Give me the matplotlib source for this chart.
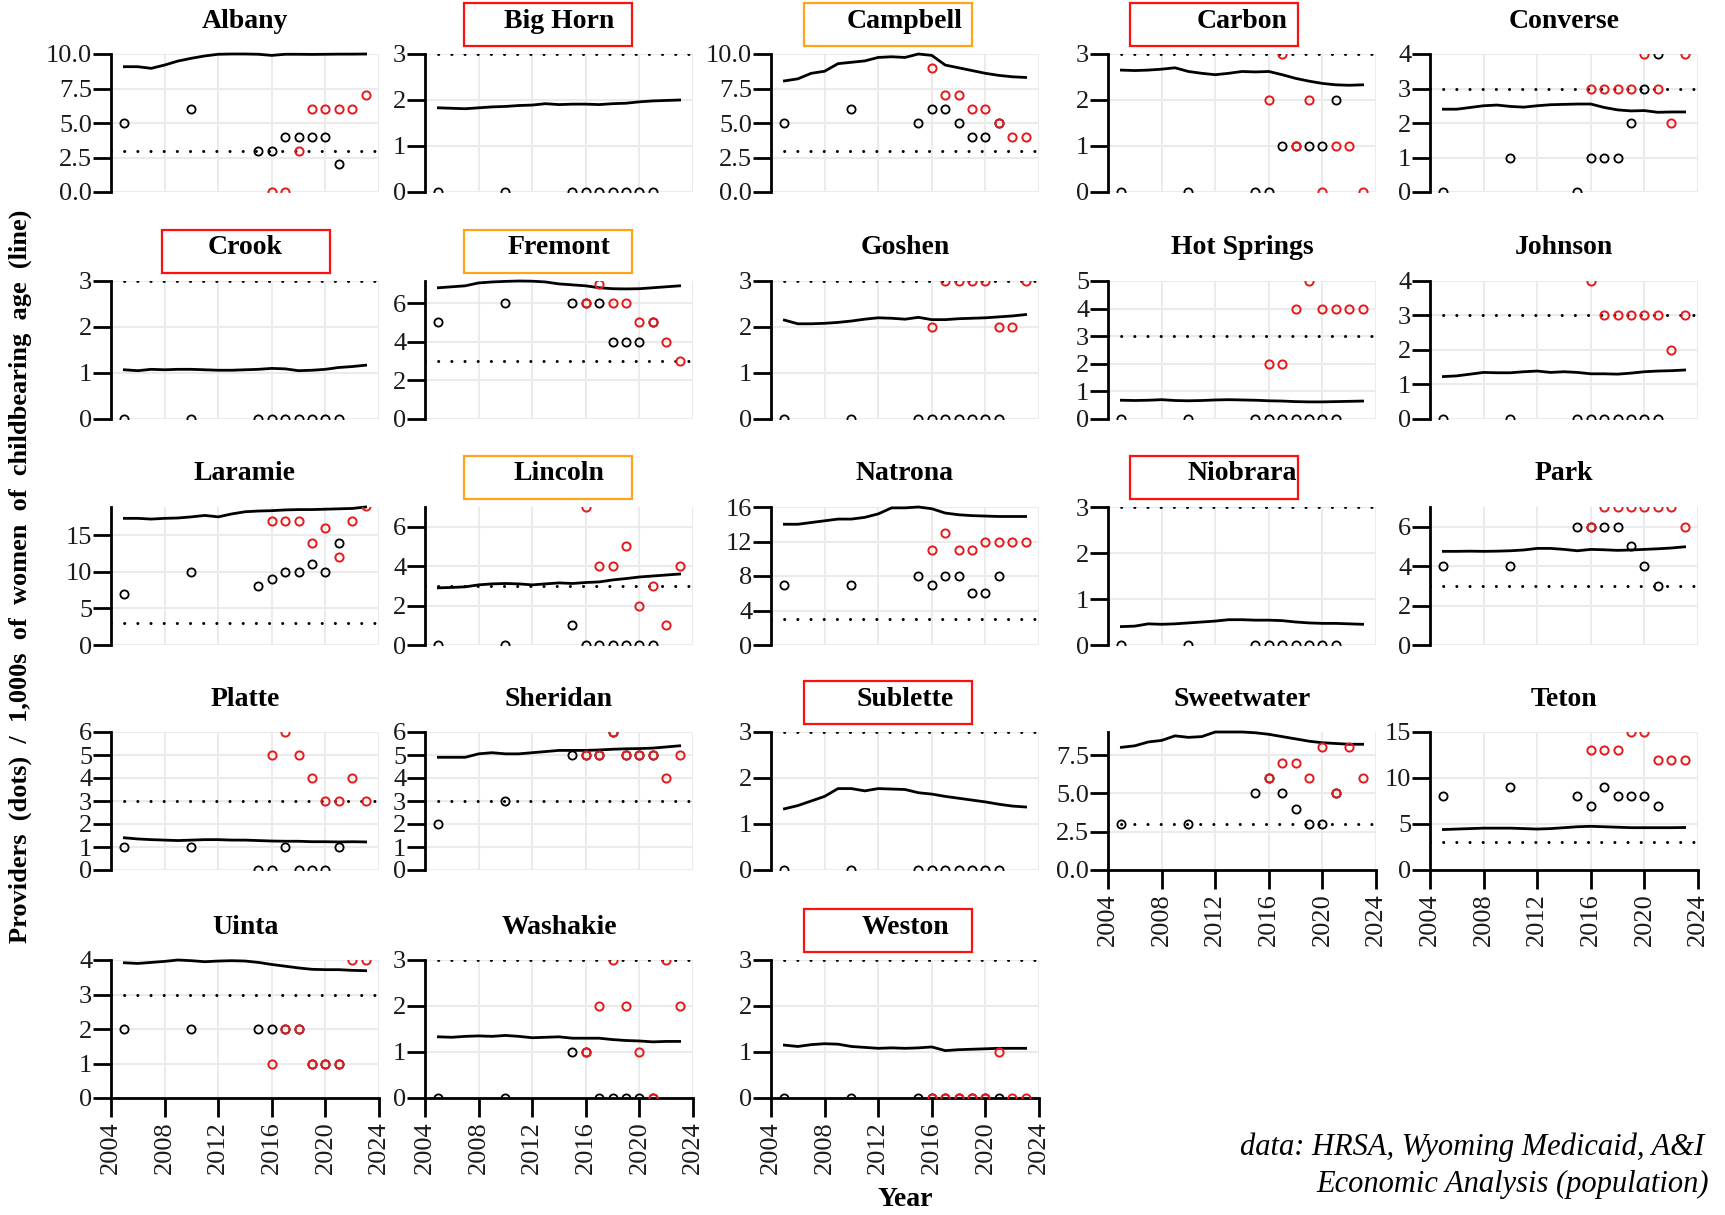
import matplotlib.pyplot as plt
from matplotlib.patches import Rectangle
import numpy as np

plt.rcParams['font.family'] = ['Liberation Serif', 'DejaVu Serif']

counties = ['Albany', 'Big Horn', 'Campbell', 'Carbon', 'Converse',
            'Crook', 'Fremont', 'Goshen', 'Hot Springs', 'Johnson',
            'Laramie', 'Lincoln', 'Natrona', 'Niobrara', 'Park',
            'Platte', 'Sheridan', 'Sublette', 'Sweetwater', 'Teton',
            'Uinta', 'Washakie', 'Weston']

line_years = list(range(2005, 2024))
black_years = [2005, 2010, 2015, 2016, 2017, 2018, 2019, 2020, 2021]
red_years = list(range(2016, 2024))

# women of childbearing age, 1,000s (line)
women_k = {
    'Albany': [9.08, 9.08, 8.96, 9.2, 9.49, 9.69, 9.86, 9.98, 10.0, 10.0, 9.98, 9.9, 9.98, 9.98, 9.97, 9.98, 9.99, 9.99, 10.0],
    'Big Horn': [1.83, 1.82, 1.81, 1.83, 1.85, 1.86, 1.88, 1.89, 1.92, 1.9, 1.91, 1.91, 1.9, 1.92, 1.93, 1.96, 1.98, 1.99, 2.0],
    'Campbell': [8.05, 8.2, 8.6, 8.75, 9.3, 9.4, 9.5, 9.75, 9.8, 9.75, 10.0, 9.9, 9.2, 9.0, 8.8, 8.6, 8.45, 8.35, 8.3],
    'Carbon': [2.65, 2.64, 2.65, 2.67, 2.7, 2.62, 2.58, 2.55, 2.58, 2.62, 2.61, 2.62, 2.55, 2.47, 2.41, 2.36, 2.33, 2.32, 2.33],
    'Converse': [2.4, 2.4, 2.45, 2.5, 2.52, 2.48, 2.46, 2.5, 2.53, 2.54, 2.55, 2.55, 2.45, 2.38, 2.35, 2.36, 2.31, 2.32, 2.32],
    'Crook': [1.07, 1.05, 1.08, 1.07, 1.08, 1.08, 1.07, 1.06, 1.06, 1.07, 1.08, 1.1, 1.09, 1.05, 1.06, 1.08, 1.12, 1.14, 1.17],
    'Fremont': [6.8, 6.85, 6.9, 7.05, 7.1, 7.13, 7.15, 7.14, 7.1, 7.0, 6.95, 6.9, 6.8, 6.75, 6.74, 6.75, 6.8, 6.85, 6.9],
    'Goshen': [2.15, 2.07, 2.07, 2.08, 2.1, 2.13, 2.17, 2.2, 2.19, 2.17, 2.21, 2.16, 2.16, 2.18, 2.19, 2.2, 2.22, 2.24, 2.27],
    'Hot Springs': [0.68, 0.67, 0.68, 0.7, 0.67, 0.66, 0.67, 0.69, 0.7, 0.69, 0.68, 0.66, 0.65, 0.63, 0.62, 0.62, 0.63, 0.64, 0.65],
    'Johnson': [1.23, 1.25, 1.3, 1.35, 1.34, 1.34, 1.37, 1.39, 1.35, 1.37, 1.35, 1.31, 1.31, 1.3, 1.33, 1.37, 1.39, 1.4, 1.42],
    'Laramie': [17.3, 17.3, 17.2, 17.3, 17.35, 17.5, 17.7, 17.5, 17.9, 18.2, 18.3, 18.35, 18.45, 18.5, 18.5, 18.55, 18.6, 18.65, 18.85],
    'Lincoln': [2.9, 2.92, 2.95, 3.05, 3.1, 3.12, 3.1, 3.05, 3.1, 3.15, 3.12, 3.17, 3.2, 3.3, 3.37, 3.45, 3.5, 3.55, 3.6],
    'Natrona': [14.0, 14.0, 14.2, 14.4, 14.6, 14.6, 14.8, 15.2, 15.9, 15.9, 16.0, 15.8, 15.3, 15.1, 15.0, 14.95, 14.9, 14.9, 14.9],
    'Niobrara': [0.4, 0.41, 0.46, 0.45, 0.46, 0.48, 0.5, 0.52, 0.55, 0.55, 0.54, 0.54, 0.53, 0.5, 0.48, 0.47, 0.47, 0.46, 0.45],
    'Park': [4.75, 4.75, 4.76, 4.75, 4.76, 4.78, 4.82, 4.9, 4.9, 4.85, 4.78, 4.85, 4.83, 4.8, 4.82, 4.85, 4.88, 4.92, 4.98],
    'Platte': [1.4, 1.35, 1.32, 1.3, 1.28, 1.3, 1.32, 1.32, 1.3, 1.3, 1.28, 1.26, 1.25, 1.25, 1.23, 1.23, 1.22, 1.23, 1.22],
    'Sheridan': [4.9, 4.9, 4.9, 5.05, 5.1, 5.05, 5.05, 5.1, 5.15, 5.2, 5.2, 5.2, 5.22, 5.25, 5.27, 5.28, 5.3, 5.35, 5.4],
    'Sublette': [1.33, 1.4, 1.5, 1.6, 1.77, 1.77, 1.72, 1.77, 1.76, 1.75, 1.68, 1.65, 1.6, 1.56, 1.52, 1.48, 1.43, 1.39, 1.37],
    'Sweetwater': [8.0, 8.1, 8.35, 8.45, 8.75, 8.65, 8.7, 9.0, 9.0, 9.0, 8.95, 8.85, 8.7, 8.55, 8.4, 8.3, 8.25, 8.2, 8.2],
    'Teton': [4.4, 4.45, 4.5, 4.55, 4.55, 4.55, 4.5, 4.45, 4.5, 4.6, 4.7, 4.75, 4.7, 4.65, 4.6, 4.6, 4.6, 4.6, 4.62],
    'Uinta': [3.92, 3.9, 3.93, 3.96, 4.0, 3.98, 3.95, 3.97, 3.98, 3.97, 3.93, 3.87, 3.82, 3.77, 3.73, 3.72, 3.72, 3.7, 3.69],
    'Washakie': [1.33, 1.32, 1.34, 1.35, 1.34, 1.36, 1.34, 1.31, 1.32, 1.33, 1.3, 1.3, 1.3, 1.27, 1.25, 1.24, 1.22, 1.23, 1.23],
    'Weston': [1.15, 1.12, 1.16, 1.18, 1.17, 1.12, 1.1, 1.08, 1.09, 1.08, 1.09, 1.11, 1.03, 1.05, 1.06, 1.07, 1.08, 1.08, 1.08],
}

# providers, black dots
prov_black = {
    'Albany': [5, 6, 3, 3, 4, 4, 4, 4, 2],
    'Big Horn': [0, 0, 0, 0, 0, 0, 0, 0, 0],
    'Campbell': [5, 6, 5, 6, 6, 5, 4, 4, 5],
    'Carbon': [0, 0, 0, 0, 1, 1, 1, 1, 2],
    'Converse': [0, 1, 0, 1, 1, 1, 2, 3, 4],
    'Crook': [0, 0, 0, 0, 0, 0, 0, 0, 0],
    'Fremont': [5, 6, 6, 6, 6, 4, 4, 4, 5],
    'Goshen': [0, 0, 0, 0, 0, 0, 0, 0, 0],
    'Hot Springs': [0, 0, 0, 0, 0, 0, 0, 0, 0],
    'Johnson': [0, 0, 0, 0, 0, 0, 0, 0, 0],
    'Laramie': [7, 10, 8, 9, 10, 10, 11, 10, 14],
    'Lincoln': [0, 0, 1, 0, 0, 0, 0, 0, 0],
    'Natrona': [7, 7, 8, 7, 8, 8, 6, 6, 8],
    'Niobrara': [0, 0, 0, 0, 0, 0, 0, 0, 0],
    'Park': [4, 4, 6, 6, 6, 6, 5, 4, 3],
    'Platte': [1, 1, 0, 0, 1, 0, 0, 0, 1],
    'Sheridan': [2, 3, 5, 5, 5, 6, 5, 5, 5],
    'Sublette': [0, 0, 0, 0, 0, 0, 0, 0, 0],
    'Sweetwater': [3, 3, 5, 6, 5, 4, 3, 3, 5],
    'Teton': [8, 9, 8, 7, 9, 8, 8, 8, 7],
    'Uinta': [2, 2, 2, 2, 2, 2, 1, 1, 1],
    'Washakie': [0, 0, 1, 1, 0, 0, 0, 0, 0],
    'Weston': [0, 0, 0, 0, 0, 0, 0, 0, 0],
}

# providers, red dots (none shown for some counties)
prov_red = {
    'Albany': [0, 0, 3, 6, 6, 6, 6, 7],
    'Campbell': [9, 7, 7, 6, 6, 5, 4, 4],
    'Carbon': [2, 3, 1, 2, 0, 1, 1, 0],
    'Converse': [3, 3, 3, 3, 4, 3, 2, 4],
    'Fremont': [6, 7, 6, 6, 5, 5, 4, 3],
    'Goshen': [2, 3, 3, 3, 3, 2, 2, 3],
    'Hot Springs': [2, 2, 4, 5, 4, 4, 4, 4],
    'Johnson': [4, 3, 3, 3, 3, 3, 2, 3],
    'Laramie': [17, 17, 17, 14, 16, 12, 17, 19],
    'Lincoln': [7, 4, 4, 5, 2, 3, 1, 4],
    'Natrona': [11, 13, 11, 11, 12, 12, 12, 12],
    'Park': [6, 7, 7, 7, 7, 7, 7, 6],
    'Platte': [5, 6, 5, 4, 3, 3, 4, 3],
    'Sheridan': [5, 5, 6, 5, 5, 5, 4, 5],
    'Sweetwater': [6, 7, 7, 6, 8, 5, 8, 6],
    'Teton': [13, 13, 13, 15, 15, 12, 12, 12],
    'Uinta': [1, 2, 2, 1, 1, 1, 4, 4],
    'Washakie': [1, 2, 3, 2, 1, 0, 3, 2],
    'Weston': [0, 0, 0, 0, 0, 1, 0, 0],
}

y_top = {'Albany': 10, 'Big Horn': 3, 'Campbell': 10, 'Carbon': 3, 'Converse': 4,
         'Crook': 3, 'Fremont': 7.15, 'Goshen': 3, 'Hot Springs': 5, 'Johnson': 4,
         'Laramie': 18.85, 'Lincoln': 7, 'Natrona': 16, 'Niobrara': 3, 'Park': 7,
         'Platte': 6, 'Sheridan': 6, 'Sublette': 3, 'Sweetwater': 9, 'Teton': 15,
         'Uinta': 4, 'Washakie': 3, 'Weston': 3}
y_step = {'Albany': 2.5, 'Campbell': 2.5, 'Sweetwater': 2.5, 'Fremont': 2, 'Lincoln': 2,
          'Park': 2, 'Natrona': 4, 'Laramie': 5, 'Teton': 5}

flagged = {'Big Horn': 'red', 'Carbon': 'red', 'Crook': 'red', 'Niobrara': 'red',
           'Sublette': 'red', 'Weston': 'red',
           'Campbell': 'orange', 'Fremont': 'orange', 'Lincoln': 'orange'}
flag_colours = {'red': '#FF1010', 'orange': '#FFA31A'}

W, H = 1725, 1215
col_x = [111, 425, 771, 1108, 1430]
row_y = [54, 281, 507, 732, 960]
pw, ph = 268, 138
box_dx = [51, 39, 33, 22, 22]
with_xaxis = ['Sweetwater', 'Teton', 'Uinta', 'Washakie', 'Weston']

fig = plt.figure(figsize=(W / 100, H / 100), dpi=100)

for i, name in enumerate(counties):
    r, c = divmod(i, 5)
    ax = fig.add_axes([col_x[c] / W, 1 - (row_y[r] + ph) / H, pw / W, ph / H])
    top = y_top[name]
    step = y_step.get(name, 1)
    ax.set_xlim(2004, 2024)
    ax.set_ylim(0, top)
    ax.set_xticks(range(2004, 2025, 4))
    ticks = np.arange(0, top + 1e-9, step)
    ax.set_yticks(ticks)
    if step == 2.5:
        ax.set_yticklabels(['%.1f' % t for t in ticks])
    else:
        ax.set_yticklabels(['%d' % t for t in ticks])

    ax.grid(True, color='#EBEBEB', lw=1.5)
    ax.set_axisbelow(True)
    for s in ['top', 'right']:
        ax.spines[s].set_visible(False)
    ax.spines['left'].set_linewidth(2.0)
    ax.tick_params(axis='y', length=13, width=2.0, pad=0.5, labelsize=19, labelcolor='#1a1a1a')
    if name in with_xaxis:
        ax.spines['bottom'].set_linewidth(2.0)
        ax.tick_params(axis='x', length=14, width=2.0, pad=3, labelsize=19,
                       labelrotation=90, labelcolor='#1a1a1a')
    else:
        ax.spines['bottom'].set_visible(False)
        ax.tick_params(axis='x', length=0, labelbottom=False)

    ax.axhline(3, color='black', lw=2.2, ls=(0, (0.01, 4.3)), dash_capstyle='round', zorder=2)
    ax.plot(line_years, women_k[name], color='black', lw=2.0, zorder=3, clip_on=False)
    ax.plot(black_years, prov_black[name], ls='none', marker='o', ms=5.9, mfc='none',
            mec='black', mew=1.3, zorder=4)
    if name in prov_red:
        ax.plot(red_years, prov_red[name], ls='none', marker='o', ms=5.9, mfc='none',
                mec='#E41A1C', mew=1.4, zorder=5)

    ax.text(0.5, 1 + 33 / ph, name, transform=ax.transAxes, ha='center', va='center',
            fontsize=20, fontweight='bold')

    if name in flagged:
        bx = col_x[c] + box_dx[c]
        by = row_y[r] - 51
        fig.patches.append(Rectangle((bx / W, 1 - (by + 43) / H), 168 / W, 43 / H,
                                     transform=fig.transFigure, fill=False,
                                     ec=flag_colours[flagged[name]], lw=1.6))

fig.text(20 / W, 1 - 576 / H,
         'Providers  (dots)  /  1,000s  of  women  of  childbearing  age  (line)',
         rotation=90, ha='center', va='center', fontsize=19, fontweight='bold')
fig.text(905 / W, 1 - 1199 / H, 'Year', ha='center', va='center',
         fontsize=20, fontweight='bold')
fig.text(1240 / W, 1 - 1147 / H, 'data: HRSA, Wyoming Medicaid, A&I',
         ha='left', va='center', fontsize=22, style='italic')
fig.text(1316 / W, 1 - 1184 / H, 'Economic Analysis (population)',
         ha='left', va='center', fontsize=22, style='italic')

fig.savefig('out.png', dpi=100)
